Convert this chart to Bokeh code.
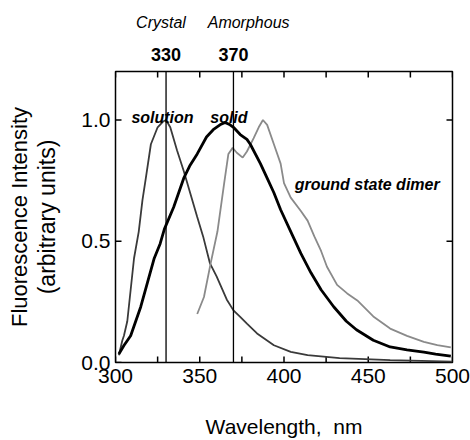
import math

from bokeh.core.properties import value
from bokeh.embed import file_html
from bokeh.models import FixedTicker, LinearAxis, Range1d, Span
from bokeh.plotting import figure
from bokeh.resources import INLINE

# Emission spectra: wavelength (nm) and normalised intensity
solution_wl = [302, 304, 305, 307, 309, 311, 313.8, 316, 318, 321, 325, 328.5, 330,
               332.5, 336.5, 340.5, 344.5, 348.5, 352, 356, 360, 366, 370, 374, 378,
               384, 394, 404, 414, 433, 463, 500]
solution_int = [0.03, 0.09, 0.11, 0.17, 0.30, 0.43, 0.54, 0.67, 0.76, 0.90, 0.97, 0.995, 1.0,
                0.97, 0.875, 0.79, 0.695, 0.60, 0.52, 0.41, 0.355, 0.26, 0.215, 0.188, 0.16,
                0.12, 0.071, 0.044, 0.030, 0.018, 0.010, 0.004]

solid_wl = [302, 305, 309, 312, 315, 319, 323, 326.5, 329, 334.5, 340.5, 344, 348.5, 354,
            358, 362, 365, 368, 370, 374, 378, 380, 386, 390, 394, 398, 404, 410, 416,
            422, 429.5, 437, 443, 453, 463, 473, 483, 490, 499]
solid_int = [0.035, 0.07, 0.11, 0.17, 0.23, 0.33, 0.43, 0.49, 0.55, 0.64, 0.76, 0.81, 0.86, 0.93,
             0.96, 0.98, 0.99, 0.98, 0.97, 0.94, 0.92, 0.90, 0.82, 0.76, 0.70, 0.63, 0.54, 0.45,
             0.37, 0.30, 0.23, 0.17, 0.135, 0.092, 0.064, 0.052, 0.043, 0.035, 0.026]

dimer_wl = [348.5, 352.5, 356.5, 360.5, 364.5, 367, 369.5, 372, 375.5, 378, 382, 385, 387.5,
            390, 394, 398, 400, 404, 410, 414, 418, 422, 425.5, 431.5, 437.5, 443.5, 453,
            463, 473, 483, 491, 499]
dimer_int = [0.20, 0.27, 0.41, 0.54, 0.74, 0.86, 0.885, 0.865, 0.845, 0.87, 0.925, 0.97, 1.0,
             0.98, 0.90, 0.82, 0.74, 0.68, 0.625, 0.585, 0.52, 0.46, 0.395, 0.32, 0.285, 0.256,
             0.19, 0.14, 0.11, 0.085, 0.072, 0.062]

# Reference wavelengths marked above the frame
marker_wl = [330, 370]
marker_text = ["330", "370"]
phase_names = ["Crystal", "Amorphous"]
phase_label_x = [327, 379]

x_ticks = [300, 350, 400, 450, 500]
x_minor = [325, 375, 425, 475]
y_ticks = [0.0, 0.5, 1.0]

FONT = "Liberation Sans"
X0, X1, Y0, Y1 = 300, 500, 0.0, 1.2
TICK_PX = 6

p = figure(width=470, height=440, output_backend="svg", toolbar_location=None,
           x_range=Range1d(X0, X1), y_range=Range1d(Y0, Y1),
           min_border_left=115, min_border_right=18, min_border_top=71,
           min_border_bottom=78, x_axis_location=None, y_axis_location=None)
p.grid.visible = False
p.outline_line_color = "black"
p.outline_line_width = 1.5
p.background_fill_color = "white"
p.border_fill_color = "white"


def bare_axis(ax):
    ax.axis_line_color = None
    ax.major_tick_line_color = None
    ax.minor_tick_line_color = None
    ax.major_tick_out = 0
    ax.minor_tick_out = 0
    ax.major_label_text_font = FONT
    ax.major_label_text_color = "black"
    ax.axis_label_text_font = FONT
    ax.axis_label_text_font_style = "normal"
    ax.axis_label_text_color = "black"


# Bottom axis: wavelength labels and title
xb = LinearAxis(ticker=FixedTicker(ticks=x_ticks, minor_ticks=[]))
bare_axis(xb)
xb.major_label_text_font_size = "21px"
xb.major_label_standoff = 6
xb.axis_label = "Wavelength,\u00a0 nm"
xb.axis_label_text_font_size = "21px"
xb.axis_label_standoff = 29
p.add_layout(xb, "below")

# Left axis: intensity labels and the second title line
yl = LinearAxis(ticker=FixedTicker(ticks=y_ticks, minor_ticks=[]))
bare_axis(yl)
yl.major_label_text_font_size = "21px"
yl.major_label_standoff = 5
yl.major_label_overrides = {0: "0.0", 0.5: "0.5", 1: "1.0"}
yl.axis_label = "(arbitrary units)"
yl.axis_label_text_font_size = "23px"
yl.axis_label_standoff = 18
p.add_layout(yl, "left")

# Outer left axis carrying only the first title line
yl2 = LinearAxis(ticker=FixedTicker(ticks=[], minor_ticks=[]))
bare_axis(yl2)
yl2.major_label_standoff = 0
yl2.axis_label = "Fluorescence Intensity"
yl2.axis_label_text_font_size = "22px"
yl2.axis_label_standoff = 0
p.add_layout(yl2, "left")

# Top: marker wavelengths, then phase names further out
xt = LinearAxis(ticker=FixedTicker(ticks=marker_wl, minor_ticks=[]))
bare_axis(xt)
xt.major_label_text_font_size = "18px"
xt.major_label_text_font_style = "bold"
xt.major_label_standoff = 11
xt.major_label_overrides = {wl: t for wl, t in zip(marker_wl, marker_text)}
p.add_layout(xt, "above")

xp = LinearAxis(ticker=FixedTicker(ticks=phase_label_x, minor_ticks=[]))
bare_axis(xp)
xp.major_label_text_font_size = "16px"
xp.major_label_text_font_style = "italic"
xp.major_label_standoff = 14
xp.major_label_overrides = {x: t for x, t in zip(phase_label_x, phase_names)}
p.add_layout(xp, "above")

# Inward tick marks on all four sides of the frame, drawn as short two-point lines
# whose length is a fixed number of screen pixels converted to data units
frame_w = 470 - 115 - 18
frame_h = 440 - 71 - 78
dx = TICK_PX * (X1 - X0) / frame_w
dy = TICK_PX * (Y1 - Y0) / frame_h
xt_all = sorted(x_ticks + x_minor)
tick_xs, tick_ys = [], []
for t in xt_all:
    tick_xs += [[t, t], [t, t]]
    tick_ys += [[Y0, Y0 + dy], [Y1, Y1 - dy]]
for t in y_ticks:
    tick_xs += [[X0, X0 + dx], [X1, X1 - dx]]
    tick_ys += [[t, t], [t, t]]
p.multi_line(xs=tick_xs, ys=tick_ys, line_color="black", line_width=1.5)

# Spectra
p.line(solution_wl, solution_int, line_color="#3a3a3a", line_width=1.8)
p.line(dimer_wl, dimer_int, line_color="#8a8a8a", line_width=1.8)
p.line(solid_wl, solid_int, line_color="black", line_width=2.8)

# Vertical markers at the crystal / amorphous emission maxima
for wl in marker_wl:
    p.add_layout(Span(location=wl, dimension="height", line_color="black", line_width=1.3))

# Curve names
p.text(x=[327.9, 367.3, 449.4], y=[1.01, 1.01, 0.733],
       text=["solution", "solid", "ground state dimer"],
       text_font=value(FONT), text_font_style="bold italic", text_font_size="16px",
       text_align="center", text_baseline="alphabetic", text_color="black")

open("out.html", "w").write(file_html(p, INLINE))
